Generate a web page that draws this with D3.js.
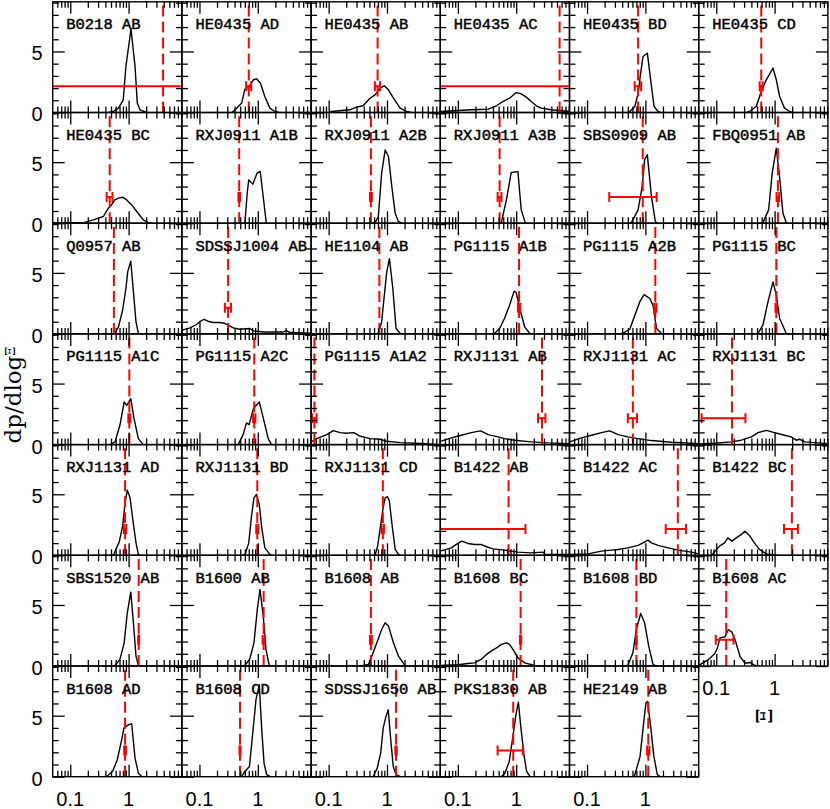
<!DOCTYPE html>
<html>
<head>
<meta charset="utf-8">
<script src="https://cdn.jsdelivr.net/npm/d3@7"></script>
<style>
body{margin:0;background:#fff;}
.tick line{stroke:#000;stroke-width:1.3;}
</style>
</head>
<body>
<div id="visual"></div>
<script>
//data: one panel per lens pair
const lensNames = [
	"B0218 AB","HE0435 AD","HE0435 AB","HE0435 AC","HE0435 BD","HE0435 CD",
	"HE0435 BC","RXJ0911 A1B","RXJ0911 A2B","RXJ0911 A3B","SBS0909 AB","FBQ0951 AB",
	"Q0957 AB","SDSSJ1004 AB","HE1104 AB","PG1115 A1B","PG1115 A2B","PG1115 BC",
	"PG1115 A1C","PG1115 A2C","PG1115 A1A2","RXJ1131 AB","RXJ1131 AC","RXJ1131 BC",
	"RXJ1131 AD","RXJ1131 BD","RXJ1131 CD","B1422 AB","B1422 AC","B1422 BC",
	"SBS1520 AB","B1600 AB","B1608 AB","B1608 BC","B1608 BD","B1608 AC",
	"B1608 AD","B1608 CD","SDSSJ1650 AB","PKS1830 AB","HE2149 AB"
];
//observed Xi (dashed line) and its error (null = no bar)
const xiObs = [
	3.9,0.70,0.69,5.55,0.75,0.59,
	0.475,0.48,0.53,0.52,0.9,1.14,
	0.56,0.31,0.74,1.12,1.48,1.07,
	1.03,0.87,0.057,2.77,0.61,0.186,
	0.87,0.98,0.85,0.74,3.6,1.98,
	1.49,1.26,0.53,1.19,0.70,0.148,
	0.87,0.495,1.43,0.89,1.12
];
const xiErr = [
	5,0.07,0.07,6,0.095,0.035,
	0.055,0.015,0.02,0.04,0.66,0.06,
	null,0.037,null,0.05,0.06,0.035,
	0.04,0.04,0.005,0.4,0.11,0.13,
	0.04,0.04,0.04,0.7,1.37,0.53,
	0.03,0.05,0.02,0.03,0.01,0.05,
	0.03,0.01,0.04,0.41,0.05
];
//model distributions dp/dlogXi, [Xi, value]
const curves = [
	[[0.45,0],[0.55,0.08],[0.67,0.36],[0.81,1.04],[0.9,3.77],[1.1,6.85],[1.29,3.77],[1.41,0.77],[1.57,0.22],[2.04,0]],
	[[0.36,0],[0.41,0.22],[0.53,0.77],[0.6,1.91],[0.7,2.08],[0.84,2.68],[0.95,2.76],[1.11,2.4],[1.32,1.31],[1.61,0.36],[1.96,0.08],[2.3,0]],
	[[0.1,0.06],[0.23,0.22],[0.3,0.44],[0.39,0.55],[0.51,1.17],[0.625,1.45],[0.76,2.0],[0.9,2.19],[1.06,1.86],[1.29,1.17],[1.68,0.36],[2.18,0.08],[2.6,0]],
	[[0.05,0.08],[0.088,0.14],[0.17,0.22],[0.33,0.27],[0.46,0.55],[0.59,0.9],[0.77,1.17],[1.0,1.64],[1.22,1.53],[1.49,1.26],[1.81,0.9],[2.21,0.55],[2.69,0.36],[4.0,0.22],[8.2,0.08]],
	[[0.5,0],[0.54,0.08],[0.66,0.49],[0.75,1.58],[0.83,3.22],[0.91,4.59],[1.08,4.86],[1.23,2.68],[1.41,0.49],[1.65,0.08],[1.8,0]],
	[[0.33,0],[0.37,0.08],[0.485,0.49],[0.59,1.72],[0.72,2.68],[0.94,3.63],[1.07,2.68],[1.22,1.31],[1.48,0.36],[1.81,0.08],[2,0]],
	[[0.05,0.05],[0.17,0.05],[0.25,0.27],[0.3,0.41],[0.37,0.55],[0.45,1.23],[0.51,1.5],[0.58,1.91],[0.67,2.05],[0.79,2.13],[0.93,1.91],[1.13,1.5],[1.38,0.96],[1.79,0.27],[2.18,0.05],[2.5,0]],
	[[0.6,0],[0.66,2.5],[0.7,3.55],[0.82,3.2],[0.97,4.1],[1.1,4.25],[1.25,2.0],[1.4,0]],
	[[0.58,0],[0.625,0.05],[0.71,0.55],[0.81,4.1],[0.93,6.0],[1.06,5.46],[1.21,3.0],[1.38,0.82],[1.57,0.14],[1.8,0]],
	[[0.54,0],[0.556,0.05],[0.68,1.91],[0.82,4.15],[1.07,4.23],[1.22,1.09],[1.43,0.05],[1.5,0]],
	[[0.5,0],[0.575,0.05],[0.75,1.09],[0.88,3.0],[0.97,5.19],[1.08,5.6],[1.27,2.19],[1.48,0.14],[1.6,0]],
	[[0.58,0],[0.63,0.05],[0.79,1.09],[0.91,4.1],[1.07,6.15],[1.22,3.77],[1.39,0.82],[1.58,0.05],[1.7,0]],
	[[0.55,0],[0.585,0.05],[0.67,0.57],[0.79,1.94],[0.9,3.72],[0.965,5.08],[1.09,5.96],[1.21,3.44],[1.34,0.98],[1.47,0.05],[1.6,0]],
	[[0.05,0.3],[0.069,0.49],[0.089,0.77],[0.1,0.98],[0.12,1.2],[0.14,1.04],[0.17,0.93],[0.22,0.93],[0.27,0.87],[0.31,0.71],[0.38,0.49],[0.49,0.38],[0.73,0.44],[0.84,0.25],[1.24,0.16],[2.73,0.16],[3.1,0.27],[3.55,0.11],[8.2,0.05]],
	[[0.65,0],[0.71,0.05],[0.81,0.98],[0.9,3.17],[0.99,5.08],[1.1,6.17],[1.26,3.72],[1.43,0.44],[1.68,0.05],[1.8,0]],
	[[0.38,0],[0.43,0.05],[0.52,0.44],[0.63,1.26],[0.77,2.35],[0.92,3.5],[1.0,3.39],[1.15,2.08],[1.4,0.57],[1.7,0.05],[1.85,0]],
	[[0.37,0],[0.41,0.05],[0.54,0.38],[0.66,1.53],[0.8,2.62],[0.95,3.22],[1.19,2.9],[1.35,2.35],[1.55,0.44],[1.88,0.05],[2,0]],
	[[0.48,0],[0.52,0.05],[0.63,0.71],[0.77,2.62],[0.94,4.26],[1.07,3.17],[1.22,1.26],[1.58,0.05],[1.7,0]],
	[[0.45,0],[0.48,0],[0.585,0.22],[0.71,1.58],[0.84,3.5],[0.93,3.22],[1.09,3.77],[1.24,2.13],[1.47,0.49],[1.79,0]],
	[[0.46,0],[0.56,0.82],[0.64,1.78],[0.71,1.64],[0.84,2.95],[1.06,3.5],[1.24,2.19],[1.51,0.49],[1.72,0]],
	[[0.05,0.22],[0.0625,0.49],[0.093,0.82],[0.12,1.15],[0.157,0.98],[0.2,0.93],[0.27,0.98],[0.35,0.68],[0.51,0.49],[0.76,0.44],[0.99,0.27],[1.68,0.16],[3.2,0.11],[8.2,0]],
	[[0.05,0.27],[0.077,0.55],[0.115,0.77],[0.17,0.98],[0.245,1.12],[0.33,0.82],[0.49,0.63],[0.63,0.49],[0.94,0.36],[1.81,0.22],[3.5,0.14],[8.2,0.08]],
	[[0.05,0.22],[0.08,0.55],[0.12,0.77],[0.176,0.98],[0.245,1.12],[0.34,0.82],[0.5,0.63],[0.75,0.49],[1.27,0.33],[2.79,0.19],[8.2,0.08]],
	[[0.05,0.05],[0.094,0.11],[0.18,0.22],[0.27,0.36],[0.4,0.63],[0.52,0.98],[0.72,1.17],[1.0,0.98],[1.48,0.77],[1.93,0.63],[2.35,0.36],[2.68,0.44],[3.27,0.22],[4.85,0.16],[8.2,0.08]],
	[[0.5,0],[0.55,0],[0.61,0.53],[0.69,1.08],[0.79,2.39],[0.87,4.3],[0.95,5.34],[1.06,4.71],[1.18,2.94],[1.34,1.02],[1.47,0.07],[1.6,0]],
	[[0.55,0],[0.6,0],[0.7,1.02],[0.78,3.2],[0.86,4.71],[0.95,4.99],[1.06,4.17],[1.16,2.39],[1.32,0.61],[1.61,0.07],[1.7,0]],
	[[0.6,0],[0.625,0],[0.69,0.75],[0.76,2.12],[0.85,3.76],[0.93,4.71],[1.02,4.8],[1.1,4.44],[1.21,2.66],[1.38,0.48],[1.57,0.07],[1.7,0]],
	[[0.05,0.34],[0.077,0.61],[0.094,0.89],[0.117,1.16],[0.149,0.97],[0.194,0.89],[0.25,0.89],[0.31,0.7],[0.4,0.53],[0.63,0.42],[1.07,0.26],[1.81,0.2],[2.88,0.26],[3.07,0.1],[8.2,0.07]],
	[[0.05,0.07],[0.104,0.12],[0.176,0.34],[0.26,0.42],[0.34,0.48],[0.39,0.53],[0.5,0.61],[0.75,0.81],[0.91,1.02],[1.11,1.24],[1.27,1.02],[1.65,0.81],[2.45,0.61],[3.63,0.42],[6.15,0.26],[8.2,0.12]],
	[[0.085,0.05],[0.094,0.3],[0.114,0.75],[0.139,1.02],[0.158,1.43],[0.186,1.16],[0.22,1.43],[0.27,1.71],[0.31,1.98],[0.37,1.63],[0.45,1.02],[0.55,0.48],[0.72,0.12],[0.94,0.04],[1.1,0]],
	[[0.55,0],[0.585,0.04],[0.71,0.54],[0.84,1.9],[0.95,4.36],[1.09,6.05],[1.21,3.54],[1.34,0.81],[1.47,0.04],[1.6,0]],
	[[0.55,0],[0.6,0.04],[0.73,0.59],[0.86,1.9],[0.98,4.63],[1.09,6.27],[1.24,4.09],[1.38,1.36],[1.57,0.04],[1.7,0]],
	[[0.35,0],[0.39,0.04],[0.48,0.13],[0.55,0.81],[0.67,1.9],[0.81,2.99],[0.93,3.54],[1.06,3.27],[1.29,1.9],[1.57,0.81],[2.04,0.04],[2.3,0]],
	[[0.05,0.04],[0.1,0.1],[0.149,0.21],[0.194,0.26],[0.25,0.54],[0.31,0.95],[0.37,1.22],[0.46,1.49],[0.56,1.77],[0.68,1.9],[0.77,1.77],[0.88,1.36],[1.07,0.67],[1.4,0.26],[2.07,0.04],[2.5,0]],
	[[0.47,0],[0.5,0.04],[0.61,1.08],[0.7,2.99],[0.83,4.3],[0.97,3.54],[1.14,1.63],[1.35,0.13],[1.48,0.04],[1.6,0]],
	[[0.05,0.05],[0.072,0.5],[0.094,1.0],[0.105,1.5],[0.116,2.3],[0.141,2.4],[0.161,2.97],[0.184,2.8],[0.21,2.15],[0.256,0.78],[0.31,0.23],[0.38,0.29],[0.46,0.04],[0.55,0]],
	[[0.4,0],[0.42,0.02],[0.53,0.43],[0.64,1.39],[0.76,3.02],[0.83,3.98],[0.99,4.25],[1.13,4.34],[1.29,1.52],[1.47,0.29],[1.68,0.02],[1.8,0]],
	[[0.5,0],[0.53,0.02],[0.6,0.43],[0.72,0.84],[0.84,4.11],[0.93,6.3],[1.06,7.53],[1.16,4.11],[1.28,1.11],[1.42,0.16],[1.62,0.02],[1.7,0]],
	[[0.55,0],[0.58,0.02],[0.68,0.7],[0.78,1.93],[0.86,3.98],[0.96,4.94],[1.05,5.48],[1.16,3.02],[1.28,0.84],[1.43,0.16],[1.67,0.02],[1.8,0]],
	[[0.52,0],[0.56,0.02],[0.64,0.29],[0.76,1.25],[0.87,3.16],[0.99,5.07],[1.09,6.11],[1.19,4.25],[1.36,1.79],[1.51,0.43],[1.72,0.02],[1.8,0]],
	[[0.62,0],[0.66,0.16],[0.81,1.66],[0.92,4.12],[1.02,6.03],[1.09,6.17],[1.23,4.12],[1.4,1.66],[1.6,0.16],[1.78,0.02],[1.85,0]]
];
const errBarY = 2.15;
//ticks
const xMajor = [0.1,1];
const xMinor = [0.06,0.07,0.08,0.09,0.2,0.3,0.4,0.5,0.6,0.7,0.8,0.9,2,3,4,5,6,7,8];
const yMajor = [0,5];
const yMinor = [1,2,3,4,6,7,8,9];
const xTickLabels = ["0.1","1"];

//constants
const width = 830, height = 809;
const margin = {top: 1.8, left: 52.7};
const panelW = 129.2, panelH = 110.7, nCols = 6;

const svg = d3.select("#visual")
	.append("svg")
	.attr("width",width)
	.attr("height",height);

const x = d3.scaleLog().domain([0.05,8.2]).range([0,panelW]);
const y = d3.scaleLinear().domain([0,9.07]).range([panelH,0]);
const line = d3.line().x(d=>x(d[0])).y(d=>y(d[1]));

function ticks(g, axis, vals, size, tr){
	const a = g.append("g")
		.attr("transform",tr)
		.call(axis.tickValues(vals).tickSize(size).tickSizeOuter(0).tickFormat(""));
	a.select(".domain").remove();
}

lensNames.forEach((name,i)=>{
	const col = i % nCols, row = Math.floor(i / nCols);
	const g = svg.append("g")
		.attr("transform","translate(" + (margin.left + col*panelW) + "," + (margin.top + row*panelH) + ")");

	g.append("clipPath").attr("id","clip"+i)
		.append("rect").attr("width",panelW).attr("height",panelH);
	const inner = g.append("g").attr("clip-path","url(#clip"+i+")");

	//ticks on all four sides, pointing inward
	ticks(g, d3.axisBottom(x), xMinor, -6, "translate(0,"+panelH+")");
	ticks(g, d3.axisBottom(x), xMajor, -12, "translate(0,"+panelH+")");
	ticks(g, d3.axisTop(x), xMinor, -6, "translate(0,0)");
	ticks(g, d3.axisTop(x), xMajor, -12, "translate(0,0)");
	ticks(g, d3.axisLeft(y), yMinor, -6, "translate(0,0)");
	ticks(g, d3.axisLeft(y), yMajor, -12, "translate(0,0)");
	ticks(g, d3.axisRight(y), yMinor, -6, "translate("+panelW+",0)");
	ticks(g, d3.axisRight(y), yMajor, -12, "translate("+panelW+",0)");

	g.append("rect")
		.attr("width",panelW).attr("height",panelH)
		.attr("fill","none").attr("stroke","#000").attr("stroke-width",1.4);

	inner.append("path")
		.datum(curves[i])
		.attr("d",line)
		.attr("fill","none")
		.attr("stroke","#000")
		.attr("stroke-width",1.4)
		.attr("stroke-linejoin","round");

	//observed value
	inner.append("line")
		.attr("x1",x(xiObs[i])).attr("x2",x(xiObs[i]))
		.attr("y1",panelH).attr("y2",0)
		.attr("stroke","#ff0000").attr("stroke-width",2)
		.attr("stroke-dasharray","11,5");

	if(xiErr[i] !== null){
		const lo = Math.max(xiObs[i] - xiErr[i], 0.001), hi = xiObs[i] + xiErr[i];
		const eb = inner.append("g").attr("stroke","#ff0000").attr("stroke-width",2);
		eb.append("line")
			.attr("x1",x(lo)).attr("x2",x(hi))
			.attr("y1",y(errBarY)).attr("y2",y(errBarY));
		eb.selectAll(".cap")
			.data([lo,hi])
			.enter()
			.append("line")
			.attr("x1",d=>x(d)).attr("x2",d=>x(d))
			.attr("y1",y(errBarY)-5).attr("y2",y(errBarY)+5);
	}

	g.append("text")
		.attr("x",13.5).attr("y",27.5)
		.attr("stroke","#000").attr("stroke-width",0.45)
		.style("font-family","'Liberation Mono', monospace")
		.style("font-size","15.5px")
		.text(name);

	if(col === 0){
		g.selectAll(".ylab")
			.data(yMajor)
			.enter()
			.append("text")
			.attr("x",-10)
			.attr("y",d=>y(d)+9)
			.attr("text-anchor","end")
			.style("font-family","'Liberation Sans', Arial, sans-serif")
			.style("font-size","20px")
			.text(d=>d);
	}
	if(i + nCols >= lensNames.length){
		g.selectAll(".xlab")
			.data(xMajor)
			.enter()
			.append("text")
			.attr("x",d=>x(d))
			.attr("y",panelH+29)
			.attr("text-anchor","middle")
			.style("font-family","'Liberation Sans', Arial, sans-serif")
			.style("font-size","20px")
			.text((d,k)=>xTickLabels[k]);
	}
});

//axis titles
const ytitle = svg.append("text")
	.attr("transform","translate(21,395) rotate(-90)")
	.attr("text-anchor","middle")
	.style("font-family","'DejaVu Serif', serif")
	.style("font-size","23px");
ytitle.append("tspan").text("dp/dlog");
ytitle.append("tspan").attr("dy","-6").style("font-size","13px").text("Ξ");

svg.append("text")
	.attr("transform","translate(772,716) rotate(-90)")
	.attr("text-anchor","middle")
	.style("font-family","'DejaVu Serif', serif")
	.style("font-size","22px")
	.text("Ξ");
</script>
</body>
</html>
